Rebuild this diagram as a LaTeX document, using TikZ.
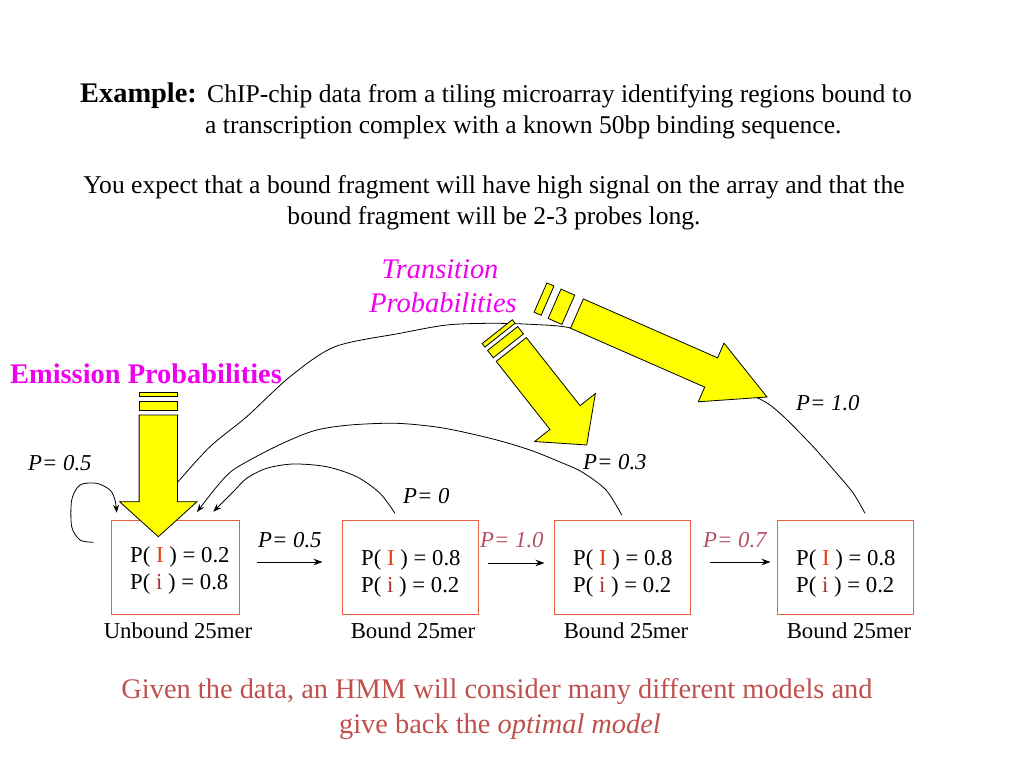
\documentclass[tikz,border=0pt]{standalone}
\usepackage{fontspec}
\setmainfont{Liberation Serif}
\usetikzlibrary{arrows.meta}
\definecolor{boxc}{RGB}{232,96,64}
\definecolor{mag}{RGB}{240,0,240}
\definecolor{redI}{RGB}{230,60,20}
\definecolor{redi}{RGB}{170,50,50}
\definecolor{pcol}{RGB}{180,80,100}
\definecolor{botc}{RGB}{192,80,77}
\definecolor{ylw}{RGB}{255,255,0}
\begin{document}
\begin{tikzpicture}[x=1pt,y=1pt,
  txt/.style={inner sep=0pt, font=\fontsize{25.6}{31}\selectfont},
  bigtxt/.style={inner sep=0pt, font=\fontsize{28.4}{34}\selectfont},
  plbl/.style={inner sep=0pt, anchor=base west, font=\fontsize{22.75}{27}\selectfont\itshape},
  btxt/.style={inner sep=0pt, anchor=base west, font=\fontsize{22.75}{27}\selectfont},
  captxt/.style={inner sep=0pt, anchor=base, font=\fontsize{22.75}{27}\selectfont},
  box/.style={draw=boxc, line width=1pt, minimum width=136pt, minimum height=94pt, inner sep=0pt},
  yarrow/.style={fill=ylw, draw=black, line width=0.8pt, line join=miter},
  link/.style={line width=0.8pt, -{Stealth[length=8pt,width=6pt]}},
  harrow/.style={line width=0.9pt, -{Stealth[length=9pt,width=6.5pt]}}
]
\useasboundingbox (0,0) rectangle (1024,-768);

% header text
\node[bigtxt, anchor=base west, font=\fontsize{28.4}{34}\selectfont\bfseries] (ex) at (80,-102) {Example:};
\node[txt, anchor=base west] (l1) at (207,-102) {ChIP-chip data from a tiling microarray identifying regions bound to};
\node[txt, anchor=base west] (l2) at (205,-133) {a transcription complex with a known 50bp binding sequence.};
\node[txt, anchor=base] (l3) at (494,-193) {You expect that a bound fragment will have high signal on the array and that the};
\node[txt, anchor=base] (l4) at (494,-224) {bound fragment will be 2-3 probes long.};

% boxes
\node[box, minimum width=128pt] (b1) at (175,-567) {};
\node[box] (b2) at (410,-567) {};
\node[box] (b3) at (622,-567) {};
\node[box] (b4) at (845,-567) {};

% box texts
\node[btxt] (t1a) at (130,-562) {P( {\color{redI}I} ) = 0.2};
\node[btxt] (t1b) at (130,-589) {P( {\color{redi}i} ) = 0.8};
\node[btxt] (t2a) at (361,-565) {P( {\color{redI}I} ) = 0.8};
\node[btxt] (t2b) at (361,-592) {P( {\color{redi}i} ) = 0.2};
\node[btxt] (t3a) at (573,-565) {P( {\color{redI}I} ) = 0.8};
\node[btxt] (t3b) at (573,-592) {P( {\color{redi}i} ) = 0.2};
\node[btxt] (t4a) at (796,-565) {P( {\color{redI}I} ) = 0.8};
\node[btxt] (t4b) at (796,-592) {P( {\color{redi}i} ) = 0.2};

% captions
\node[captxt] (c1) at (178,-638) {Unbound 25mer};
\node[captxt] (c2) at (413,-638) {Bound 25mer};
\node[captxt] (c3) at (626,-638) {Bound 25mer};
\node[captxt] (c4) at (849,-638) {Bound 25mer};

% horizontal arrows
\draw[harrow] ([shift={(17,5)}]b1.east) -- ([shift={(-19,5)}]b2.west);
\draw[harrow] ([shift={(9,4)}]b2.east) -- ([shift={(-9,4)}]b3.west);
\draw[harrow] ([shift={(19,5)}]b3.east) -- ([shift={(-6,5)}]b4.west);

% probability labels
\node[plbl] (p05a) at (258,-547.5) {P= 0.5};
\node[plbl, text=pcol] (p10a) at (480,-547.5) {P= 1.0};
\node[plbl, text=pcol] (p07) at (703,-547.5) {P= 0.7};
\node[plbl] (p05s) at (28,-470.5) {P= 0.5};
\node[plbl] (p0) at (403,-503.5) {P= 0};
\node[plbl] (p03) at (583,-469.5) {P= 0.3};
\node[plbl] (p10b) at (796,-410.5) {P= 1.0};

% curve endpoints
\coordinate (sL) at (93.3,-542.3);
\coordinate (s2) at (395,-513.3);
\coordinate (s3) at (621.7,-515);
\coordinate (s4) at (865,-513.3);

% self loop
\draw[link] plot[smooth] coordinates {(sL) (80,-540) (71.7,-526.7) (71.7,-500) (80,-485) (96.7,-483.3) (110,-490) (115,-500) (116.7,-512.7)};
% box2 -> box1
\draw[link] plot[smooth] coordinates {(s2) (380,-493.3) (356.7,-476.7) (326.7,-466.7) (293.3,-464) (266.7,-468.3) (246.7,-478.3) (233.3,-491.7) (213.3,-511.7)};
% box3 -> box1
\draw[link] plot[smooth] coordinates {(s3) (606,-490) (582,-472) (560,-462) (530,-450) (493,-439) (443,-428) (396.7,-423.3) (350,-425) (316.7,-430) (290,-440) (263,-453) (233,-470) (216.7,-486.7) (197,-512)};
% box4 -> box1 (end hidden under emission arrow)
\draw[link] plot[smooth] coordinates {(s4) (853.3,-493.3) (836.7,-473.3) (810,-443.3) (780,-413.3) (758.3,-398.3) (700,-375) (620,-345) (571,-328) (530,-324.3) (490,-323.3) (446.7,-325) (400,-333.3) (335,-346.7) (290,-376.7) (246.7,-416.7) (210,-446.7) (176.7,-483.3) (163,-500)};

% emission arrow
\begin{scope}[shift={(158.3,-536.7)}]
\draw[yarrow] (0,0) -- (38.7,35) -- (19.2,35) -- (19.2,121.7) -- (-19.2,121.7) -- (-19.2,35) -- (-38.7,35) -- cycle;
\draw[yarrow] (-19.2,126.4) rectangle (19.2,135.7);
\draw[yarrow] (-19.2,140) rectangle (19.2,144.4);
\end{scope}
% transition arrow (small)
\begin{scope}[shift={(586.7,-445)}, rotate=38.3]
\draw[yarrow] (0,0) -- (38.7,35) -- (19.2,35) -- (19.2,121.7) -- (-19.2,121.7) -- (-19.2,35) -- (-38.7,35) -- cycle;
\draw[yarrow] (-19.2,126.4) rectangle (19.2,135.7);
\draw[yarrow] (-19.2,140) rectangle (19.2,144.4);
\end{scope}
% transition arrow (big)
\begin{scope}[shift={(767,-397)}, rotate=66.3]
\draw[yarrow] (0,0) -- (32,61) -- (16,61) -- (16,207.6) -- (-16,207.6) -- (-16,61) -- (-32,61) -- cycle;
\draw[yarrow] (-16,217) rectangle (16,232);
\draw[yarrow] (-16,239.7) rectangle (16,247.4);
\end{scope}

% headings of arrows
\node[bigtxt, anchor=base west, text=mag, font=\fontsize{28.4}{34}\selectfont\bfseries] (em) at (10,-383) {Emission Probabilities};
\node[bigtxt, anchor=base, text=mag, font=\fontsize{28.4}{34}\selectfont\itshape] (tr1) at (440,-278) {Transition};
\node[bigtxt, anchor=base, text=mag, font=\fontsize{28.4}{34}\selectfont\itshape] (tr2) at (443,-312) {Probabilities};

% bottom text
\node[bigtxt, anchor=base, text=botc] (g1) at (497,-698) {Given the data, an HMM will consider many different models and};
\node[bigtxt, anchor=base, text=botc] (g2) at (500,-733) {give back the \textit{optimal model}};
\end{tikzpicture}
\end{document}
